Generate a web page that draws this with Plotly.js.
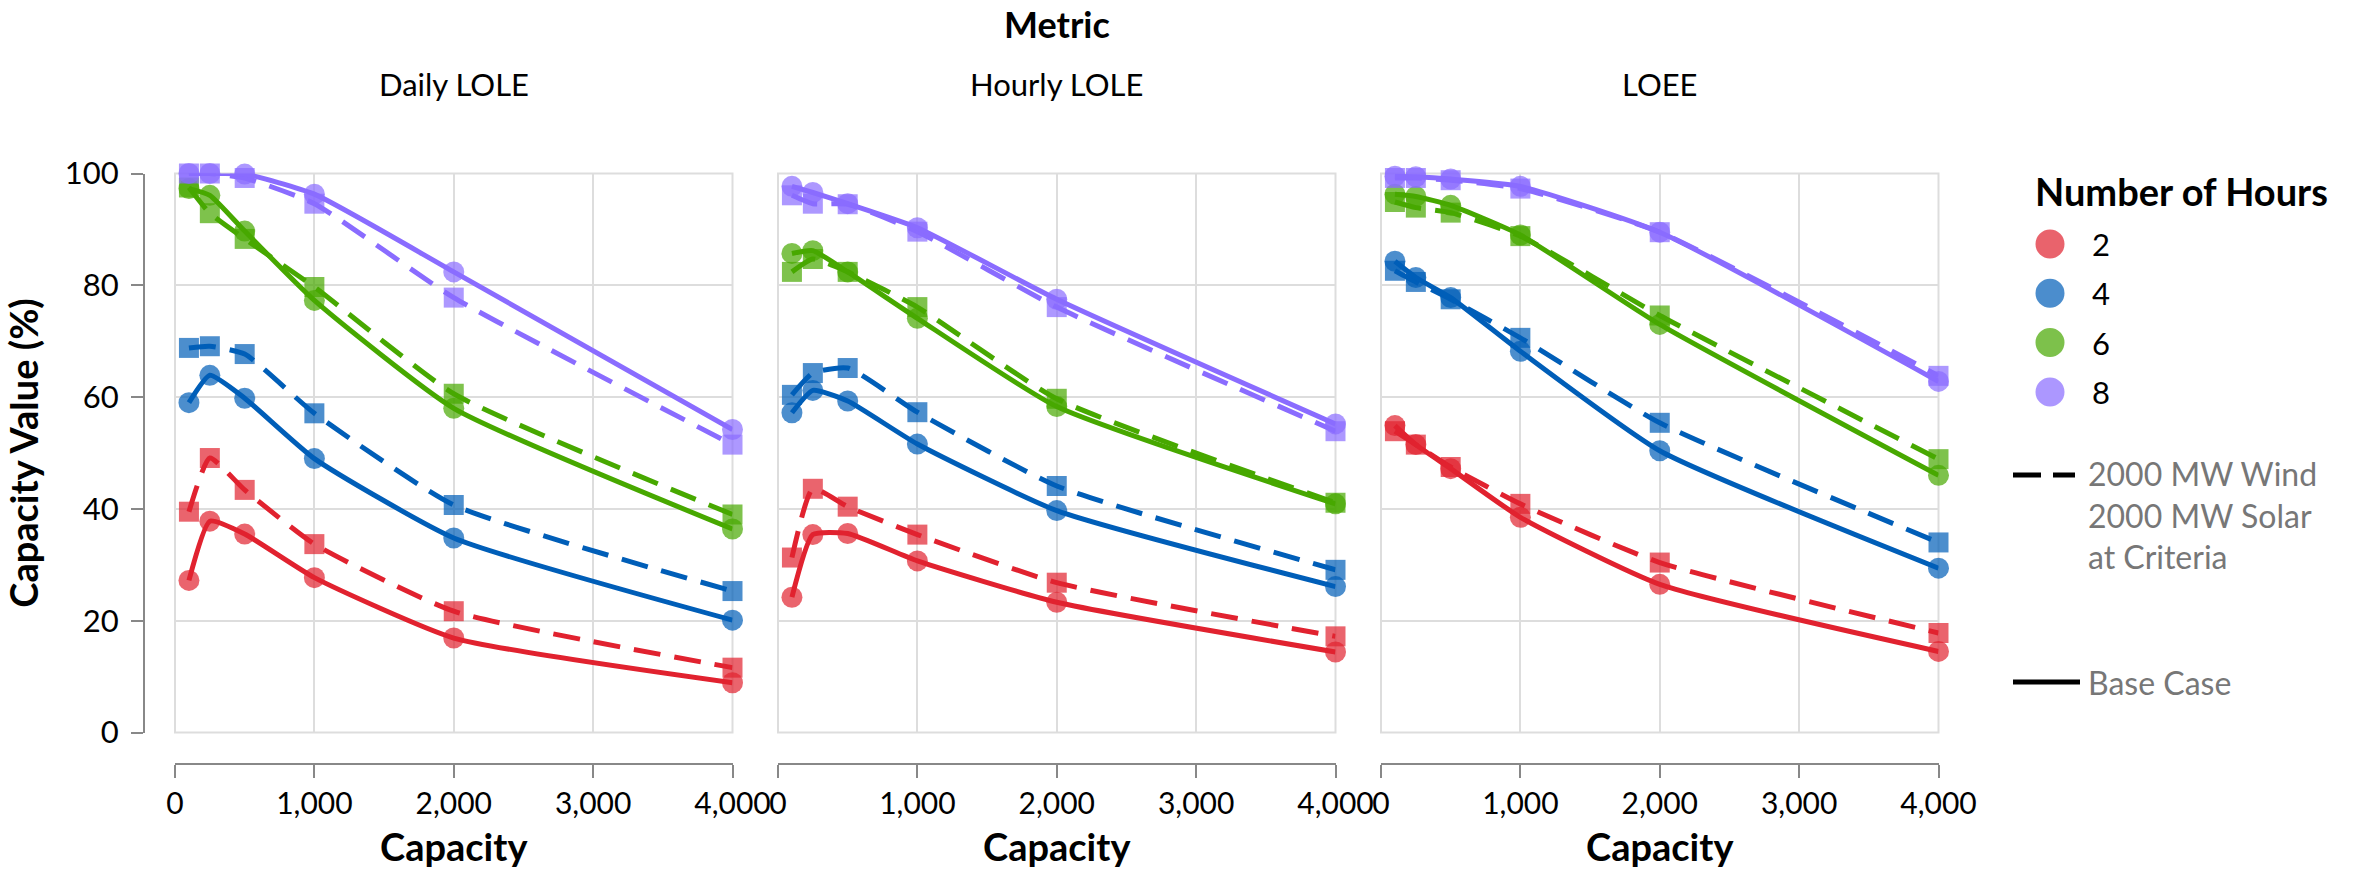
<!DOCTYPE html>
<html>
<head>
<meta charset="utf-8">
<script src="https://cdn.plot.ly/plotly-3.0.1.min.js"></script>
<style>html,body{margin:0;padding:0;background:#fff;}#chart{width:2354px;height:873px;}</style>
</head>
<body>
<div id="chart"></div>
<script>
// ---------------- DATA ----------------
const capacity = [100, 250, 500, 1000, 2000, 4000];
const hours = ['2', '4', '6', '8'];
const metrics = ['Daily LOLE', 'Hourly LOLE', 'LOEE'];
const xTicks = [0, 1000, 2000, 3000, 4000];
const yTicks = [0, 20, 40, 60, 80, 100];
const caseNames = ['2000 MW Wind<br>2000 MW Solar<br>at Criteria', 'Base Case'];

// rows = hours 2,4,6,8 ; columns = capacity
const dailyBase = [
  [27.2, 37.8, 35.5, 27.7, 16.9, 8.9],
  [59.0, 63.9, 59.8, 49.0, 34.8, 20.1],
  [97.3, 96.1, 89.7, 77.3, 58.0, 36.4],
  [100, 100, 99.9, 96.3, 82.4, 54.2]
];
const dailyCriteria = [
  [39.5, 49.1, 43.4, 33.7, 21.7, 11.6],
  [68.8, 69.1, 67.7, 57.1, 40.7, 25.3],
  [97.5, 92.9, 88.3, 79.7, 60.6, 39.0],
  [100, 100, 99.2, 94.6, 77.8, 51.5]
];
const hourlyBase = [
  [24.2, 35.4, 35.6, 30.7, 23.3, 14.4],
  [57.2, 61.2, 59.3, 51.6, 39.7, 26.1],
  [85.7, 86.2, 82.4, 74.1, 58.3, 40.9],
  [97.7, 96.6, 94.6, 90.3, 77.5, 55.2]
];
const hourlyCriteria = [
  [31.3, 43.6, 40.4, 35.4, 26.8, 17.2],
  [60.4, 64.3, 65.2, 57.3, 44.1, 29.1],
  [82.4, 84.7, 82.4, 76.1, 59.7, 41.1],
  [96.1, 94.6, 94.5, 89.6, 76.1, 53.9]
];
const loeeBase = [
  [54.9, 51.5, 47.2, 38.5, 26.5, 14.5],
  [84.3, 81.4, 77.8, 68.2, 50.4, 29.4],
  [96.3, 95.9, 94.3, 89.0, 73.0, 46.0],
  [99.5, 99.4, 99.0, 97.7, 89.5, 62.8]
];
const loeeCriteria = [
  [53.9, 51.5, 47.5, 40.9, 30.4, 17.8],
  [82.6, 80.6, 77.5, 70.6, 55.4, 34.0],
  [94.9, 93.9, 93.0, 88.8, 74.6, 48.9],
  [99.2, 99.2, 98.8, 97.3, 89.5, 63.8]
];

// ---------------- STYLE ----------------
const colors = ['#e1222f', '#005eb8', '#47a800', '#8a6cff'];
const FONT = 'Lato, "Open Sans", "DejaVu Sans", sans-serif';
const W = 2354, H = 873;
const px = v => v / W;
const py = v => 1 - v / H;

const panelDomains = [[175, 732.5], [778, 1335.5], [1381, 1938.5]];
const baseSets = [dailyBase, hourlyBase, loeeBase];
const critSets = [dailyCriteria, hourlyCriteria, loeeCriteria];

const markerTraces = [];
const lineTraces = [];
metrics.forEach((m, i) => {
  const xa = i === 0 ? 'x' : 'x' + (i + 1);
  hours.forEach((h, k) => {
    [[critSets[i][k], 'square', 20, 'dash', caseNames[0]], [baseSets[i][k], 'circle', 21, 'solid', caseNames[1]]].forEach(([vals, sym, sz, dash, nm]) => {
      markerTraces.push({
        type: 'scatter', mode: 'markers', x: capacity, y: vals, xaxis: xa, yaxis: 'y',
        name: h + ' h ' + nm, cliponaxis: false, hoverinfo: 'skip',
        marker: {symbol: sym, size: sz, color: colors[k], opacity: 0.7, line: {width: 0}}
      });
      lineTraces.push({
        type: 'scatter', mode: 'lines', x: capacity, y: vals, xaxis: xa, yaxis: 'y',
        name: h + ' h ' + nm, cliponaxis: false, hoverinfo: 'skip',
        line: {color: colors[k], width: 5, dash: dash === 'dash' ? '27px,14px' : 'solid', shape: 'spline', smoothing: 0.5}
      });
    });
  });
});

function xAxis(i) {
  return {
    domain: [px(panelDomains[i][0]), px(panelDomains[i][1])],
    anchor: 'free', position: py(764),
    range: [0, 4000], tickvals: xTicks, tickformat: ',',
    showgrid: true, gridcolor: '#dddddd', gridwidth: 2, zeroline: false,
    showline: true, linecolor: '#888888', linewidth: 2,
    ticks: 'outside', ticklen: 13, tickwidth: 2, tickcolor: '#888888',
    tickfont: {family: FONT, size: 30, color: '#000'},
    title: {text: 'Capacity', font: {family: FONT, size: 38, color: '#000', weight: 'bold'}, standoff: 14}
  };
}

const shapes = [];
const annotations = [];
panelDomains.forEach((d, i) => {
  const xr = (i === 0 ? 'x' : 'x' + (i + 1)) + ' domain';
  shapes.push({type: 'rect', xref: xr, yref: 'y domain', x0: 0, x1: 1, y0: 0, y1: 1,
    line: {color: '#dddddd', width: 2}, layer: 'below'});
  annotations.push({text: metrics[i], xref: 'paper', yref: 'paper', x: px((d[0] + d[1]) / 2), y: py(84),
    xanchor: 'center', yanchor: 'middle', showarrow: false, font: {family: FONT, size: 31, color: '#000'}});
});
annotations.push({text: 'Metric', xref: 'paper', yref: 'paper', x: px((175 + 1938.5) / 2), y: py(24),
  xanchor: 'center', yanchor: 'middle', showarrow: false, font: {family: FONT, size: 36, color: '#000', weight: 'bold'}});

// Legend (drawn manually)
annotations.push({text: 'Number of Hours', xref: 'paper', yref: 'paper', x: px(2033), y: py(191),
  xanchor: 'left', yanchor: 'middle', showarrow: false, font: {family: FONT, size: 38, color: '#000', weight: 'bold'}});
hours.forEach((h, k) => {
  const cy = 244 + k * 49.3;
  const r = 13.5;
  shapes.push({type: 'circle', xref: 'paper', yref: 'paper',
    x0: px(2050 - r), x1: px(2050 + r), y0: py(cy + r), y1: py(cy - r),
    fillcolor: colors[k], opacity: 0.7, line: {color: colors[k], width: 2}});
  annotations.push({text: h, xref: 'paper', yref: 'paper', x: px(2090), y: py(cy),
    xanchor: 'left', yanchor: 'middle', showarrow: false, font: {family: FONT, size: 31, color: '#000'}});
});
shapes.push({type: 'line', xref: 'paper', yref: 'paper', x0: px(2013), x1: px(2075), y0: py(475), y1: py(475),
  line: {color: '#000', width: 5, dash: '28px,12px'}});
annotations.push({text: caseNames[0], xref: 'paper', yref: 'paper', x: px(2086), y: py(452),
  xanchor: 'left', yanchor: 'top', align: 'left', showarrow: false, font: {family: FONT, size: 32, color: '#777'}});
shapes.push({type: 'line', xref: 'paper', yref: 'paper', x0: px(2013), x1: px(2080), y0: py(682), y1: py(682),
  line: {color: '#000', width: 5}});
annotations.push({text: caseNames[1], xref: 'paper', yref: 'paper', x: px(2086), y: py(682),
  xanchor: 'left', yanchor: 'middle', showarrow: false, font: {family: FONT, size: 32, color: '#777'}});

const layout = {
  width: W, height: H,
  margin: {l: 0, r: 0, t: 0, b: 0},
  paper_bgcolor: '#fff', plot_bgcolor: '#fff',
  showlegend: false,
  font: {family: FONT},
  xaxis: xAxis(0), xaxis2: xAxis(1), xaxis3: xAxis(2),
  yaxis: {
    domain: [py(732.5), py(173.5)], anchor: 'free', position: px(144),
    range: [0, 100], tickvals: yTicks,
    showgrid: true, gridcolor: '#dddddd', gridwidth: 2, zeroline: false,
    showline: true, linecolor: '#888888', linewidth: 2,
    ticks: 'outside', ticklen: 12, tickwidth: 2, tickcolor: '#888888',
    ticklabelstandoff: 6,
    tickfont: {family: FONT, size: 31, color: '#000'},
    title: {text: 'Capacity Value (%)', font: {family: FONT, size: 38, color: '#000', weight: 'bold'}, standoff: 14}
  },
  shapes: shapes,
  annotations: annotations
};

Plotly.newPlot('chart', markerTraces.concat(lineTraces), layout, {staticPlot: true, displayModeBar: false});
</script>
</body>
</html>
